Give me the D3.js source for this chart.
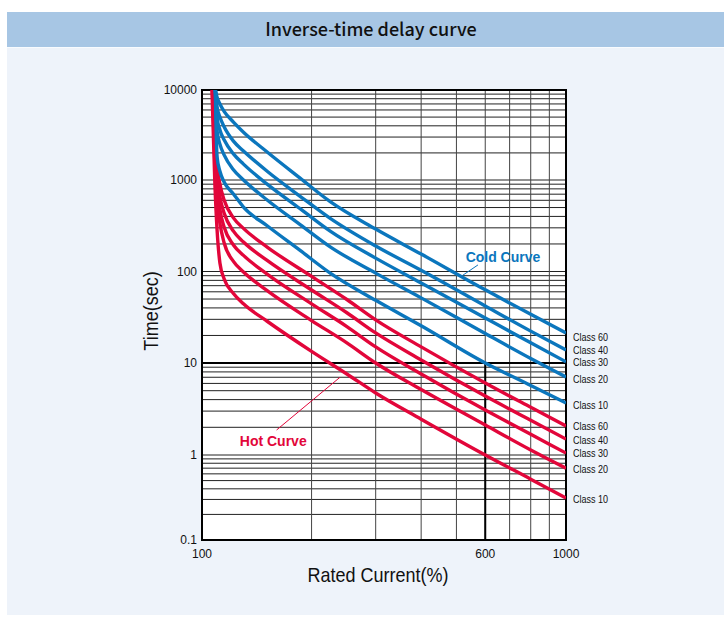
<!DOCTYPE html>
<html><head><meta charset="utf-8">
<script src="https://cdn.jsdelivr.net/npm/d3@7"></script>
<style>html,body{margin:0;padding:0;background:#fff}svg{display:block}</style>
</head><body><svg id="c" width="724" height="617"></svg>
<script>
// ---- data ----
const title = "Inverse-time delay curve";
const xTickLabels = [100, 600, 1000];
const yTickLabels = [0.1, 1, 10, 100, 1000, 10000];
const classLabels = ["Class 60", "Class 40", "Class 30", "Class 20", "Class 10"];

const coldStart = [108.8, 108.8, 108.8, 108.8, 108.8];
const coldCurrents = [110, 112, 115, 122, 130, 151, 186, 225, 300, 400, 600, 800, 1000];
const cold60 = [8300, 7000, 5800, 4400, 3400, 2050, 1050, 580, 291, 155, 63, 34, 21.3];
const cold40 = [6500, 5000, 3900, 2700, 2100, 1250, 664, 381, 190, 103, 42, 22.3, 13.9];
const cold30 = [5000, 3600, 2800, 1950, 1500, 902, 486, 276, 140, 75, 31, 16.6, 10.3];
const cold20 = [3500, 2500, 1900, 1300, 1000, 605, 326, 186, 96, 51.5, 21, 11.2, 7.05];
const cold10 = [1800, 1250, 950, 704, 506, 316, 170, 96, 48.4, 25.5, 10, 5.7, 3.67];

const hotStart = [107.5, 107.3, 107, 106.8, 106.5];
const hotCurrents = [108.5, 110, 112, 115, 122, 130, 151, 200, 250, 300, 400, 600, 800, 1000];
const hot60 = [4000, 1500, 902, 605, 386, 296, 185, 88.4, 49.4, 29.6, 15, 6.06, 3.3, 2.07];
const hot40 = [3000, 1100, 655, 436, 276, 210, 132, 62.8, 35.4, 21.3, 10.8, 4.37, 2.38, 1.49];
const hot30 = [2200, 852, 476, 306, 195, 150, 93.7, 44.3, 25, 15, 7.6, 3.08, 1.68, 1.05];
const hot20 = [1500, 605, 336, 206, 129, 98.7, 61.8, 29.1, 16.6, 10, 5.15, 2.12, 1.135, 0.70];
const hot10 = [900, 286, 124, 83.4, 57.6, 44.3, 28.6, 13.4, 7.6, 4.72, 2.45, 1.0, 0.52, 0.312];

const coldColor = "#0b76bd", hotColor = "#e2063a";

// ---- drawing ----
const svg = d3.select("#c");
const x = d3.scaleLog().domain([100, 1000]).range([202, 566]);
// the printed chart's decades are not perfectly even: piecewise log scale
const y = d3.scaleLog().domain([0.1, 1, 10, 100, 1000, 10000]).range([540, 455, 363, 271.5, 180, 90]);

svg.append("rect").attr("x", 7).attr("y", 12).attr("width", 717).attr("height", 603).attr("fill", "#eef3fa");
svg.append("rect").attr("x", 7).attr("y", 12).attr("width", 717).attr("height", 35).attr("fill", "#a7c6e4");
svg.append("line").attr("x1", 7).attr("x2", 724).attr("y1", 47.5).attr("y2", 47.5).attr("stroke", "#f8fbfe").attr("stroke-width", 1);
svg.append("text").attr("x", 371).attr("y", 36).attr("text-anchor", "middle")
  .attr("font-family", "'Noto Sans CJK KR','Noto Sans',sans-serif").attr("font-size", 18).attr("font-weight", 500)
  .attr("fill", "#111").text(title);

const g = svg.append("g");
g.append("rect").attr("x", x(100)).attr("y", y(10000)).attr("width", x(1000) - x(100)).attr("height", y(0.1) - y(10000)).attr("fill", "#fff");

// horizontal log grid
const hVals = [];
for (let e = -1; e < 4; e++) for (let m = 1; m <= 9; m++) hVals.push(m * Math.pow(10, e));
hVals.push(10000);
g.selectAll("line.h").data(hVals).enter().append("line").attr("class", "h")
  .attr("x1", x(100)).attr("x2", x(1000)).attr("y1", d => y(d)).attr("y2", d => y(d))
  .attr("stroke", "#222").attr("stroke-width", 1);
// vertical grid
const vVals = d3.range(100, 1001, 100);
g.selectAll("line.v").data(vVals).enter().append("line").attr("class", "v")
  .attr("x1", d => x(d)).attr("x2", d => x(d)).attr("y1", y(10000)).attr("y2", y(0.1))
  .attr("stroke", "#444").attr("stroke-width", 1);
// emphasised lines: 10 s and 600 % (below 10 s)
g.append("line").attr("x1", x(100)).attr("x2", x(1000)).attr("y1", y(10)).attr("y2", y(10)).attr("stroke", "#000").attr("stroke-width", 2);
g.append("line").attr("x1", x(600)).attr("x2", x(600)).attr("y1", y(10)).attr("y2", y(0.1)).attr("stroke", "#000").attr("stroke-width", 2);
// frame
g.append("rect").attr("x", x(100)).attr("y", y(10000)).attr("width", x(1000) - x(100)).attr("height", y(0.1) - y(10000))
  .attr("fill", "none").attr("stroke", "#000").attr("stroke-width", 2);

// curves
svg.append("clipPath").attr("id", "clip").append("rect")
  .attr("x", x(100)).attr("y", y(10000)).attr("width", x(1000) - x(100)).attr("height", y(0.1) - y(10000));
const line = d3.line().x(d => x(d[0])).y(d => y(d[1])).curve(d3.curveMonotoneX);
const coldSeries = [cold60, cold40, cold30, cold20, cold10];
const hotSeries = [hot60, hot40, hot30, hot20, hot10];
const curves = svg.append("g").attr("clip-path", "url(#clip)");
function drawSet(series, currents, starts, color) {
  series.forEach((vals, i) => {
    const pts = [[starts[i], 10000]].concat(currents.map((c, j) => [c, vals[j]]));
    curves.append("path").attr("d", line(pts)).attr("fill", "none").attr("stroke", color)
      .attr("stroke-width", 3.4).attr("stroke-linejoin", "round");
  });
}
drawSet(hotSeries, hotCurrents, hotStart, hotColor);
drawSet(coldSeries, coldCurrents, coldStart, coldColor);

// tick labels
const tickFont = "'Liberation Sans',Arial,sans-serif";
svg.selectAll("text.yt").data(yTickLabels).enter().append("text").attr("class", "yt")
  .attr("x", x(100) - 5).attr("y", d => y(d)).attr("dy", "0.35em").attr("text-anchor", "end")
  .attr("font-family", tickFont).attr("font-size", 12).attr("fill", "#111").text(d => d);
svg.selectAll("text.xt").data(xTickLabels).enter().append("text").attr("class", "xt")
  .attr("x", d => x(d)).attr("y", 558).attr("text-anchor", "middle")
  .attr("font-family", tickFont).attr("font-size", 12).attr("fill", "#111").text(d => d);

// axis titles (condensed look)
svg.append("text").attr("transform", "translate(378,582) scale(0.9,1)").attr("text-anchor", "middle")
  .attr("font-family", tickFont).attr("font-size", 20)
  .attr("fill", "#111").text("Rated Current(%)");
svg.append("text").attr("transform", "translate(158,311) rotate(-90) scale(0.9,1)").attr("text-anchor", "middle")
  .attr("font-family", tickFont).attr("font-size", 20)
  .attr("fill", "#111").text("Time(sec)");

// class labels at the curve ends
const coldNudge = [4, 0, 0, 2, 2], hotNudge = [0, 1, 0, 1, 1];
function classLabel(val, nudge, txt) {
  svg.append("text").attr("transform", `translate(573,${y(val) + nudge}) scale(0.82,1)`).attr("dy", "0.35em")
    .attr("font-family", tickFont).attr("font-size", 11).attr("fill", "#111").text(txt);
}
coldSeries.forEach((vals, i) => classLabel(vals[vals.length - 1], coldNudge[i], classLabels[i]));
hotSeries.forEach((vals, i) => classLabel(vals[vals.length - 1], hotNudge[i], classLabels[i]));

// annotations
svg.append("line").attr("x1", x(517)).attr("y1", y(89.3)).attr("x2", x(573)).attr("y2", y(118))
  .attr("stroke", coldColor).attr("stroke-width", 1);
svg.append("text").attr("x", x(530)).attr("y", y(127)).attr("font-family", tickFont)
  .attr("font-weight", "bold").attr("font-size", 14).attr("fill", coldColor).text("Cold Curve");
svg.append("line").attr("x1", x(239.4)).attr("y1", y(7.0)).attr("x2", x(160.3)).attr("y2", y(1.87))
  .attr("stroke", hotColor).attr("stroke-width", 1);
svg.append("text").attr("x", x(127)).attr("y", y(1.25)).attr("font-family", tickFont)
  .attr("font-weight", "bold").attr("font-size", 14).attr("fill", hotColor).text("Hot Curve");
</script></body></html>
